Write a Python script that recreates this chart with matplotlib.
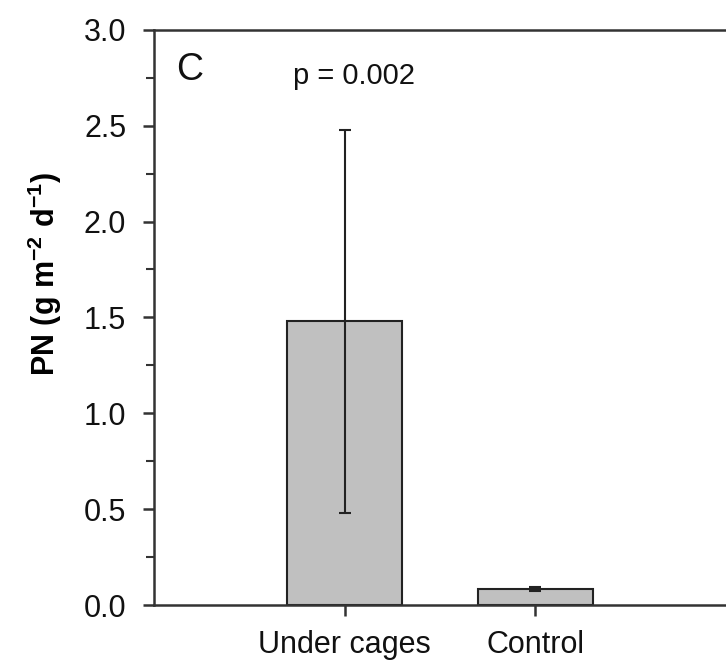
import matplotlib.pyplot as plt
import numpy as np

plt.rcParams['font.family'] = ['Liberation Sans', 'DejaVu Sans']
plt.rcParams['mathtext.fontset'] = 'custom'
plt.rcParams['mathtext.rm'] = 'Liberation Sans'
plt.rcParams['mathtext.bf'] = 'Liberation Sans:bold'

categories = ['Under cages', 'Control']
means = [1.48, 0.083]
errors = [1.0, 0.012]
panel = 'C'
p_text = 'p = 0.002'

fig = plt.figure(figsize=(7.26, 6.62), dpi=100)
ax = fig.add_axes([0.212, 0.086, 0.788, 0.869])

x = np.arange(1, len(categories) + 1)
ax.bar(x, means, width=0.6, color='#c0c0c0', edgecolor='#222222', linewidth=1.5, zorder=2)
ax.errorbar(x, means, yerr=errors, fmt='none', ecolor='#222222', elinewidth=1.5,
            capsize=4.5, capthick=1.5, zorder=3)

ax.set_xlim(0, 3)
ax.set_ylim(0, 3.0)
ax.set_xticks(x)
ax.set_xticklabels(categories)
ax.set_yticks(np.arange(0, 3.01, 0.5))
ax.set_yticklabels(['%.1f' % v for v in np.arange(0, 3.01, 0.5)])
ax.set_yticks(np.arange(0.25, 3.0, 0.5), minor=True)

ax.spines['right'].set_visible(False)
for s in ['left', 'bottom', 'top']:
    ax.spines[s].set_linewidth(1.8)
    ax.spines[s].set_color('#333333')

ax.tick_params(axis='both', which='major', direction='out', length=8, width=1.8,
               colors='#333333', labelsize=22, labelcolor='#111111', pad=6)
ax.tick_params(axis='y', which='major', pad=12)
ax.tick_params(axis='y', which='minor', direction='out', length=6, width=1.5, colors='#333333')
ax.tick_params(axis='x', which='major', pad=10)

ax.set_ylabel(r'PN (g m$^{\mathbf{-2}}$ d$^{\mathbf{-1}}$)', fontsize=22, fontweight='bold')
ax.yaxis.set_label_coords(-0.157, 0.576)

ax.text(0.115, 2.79, panel, fontsize=27, va='center', ha='left', color='#111111')
ax.text(1.05, 2.76, p_text, fontsize=21, va='center', ha='center', color='#111111')

fig.savefig('out.png', dpi=100)
